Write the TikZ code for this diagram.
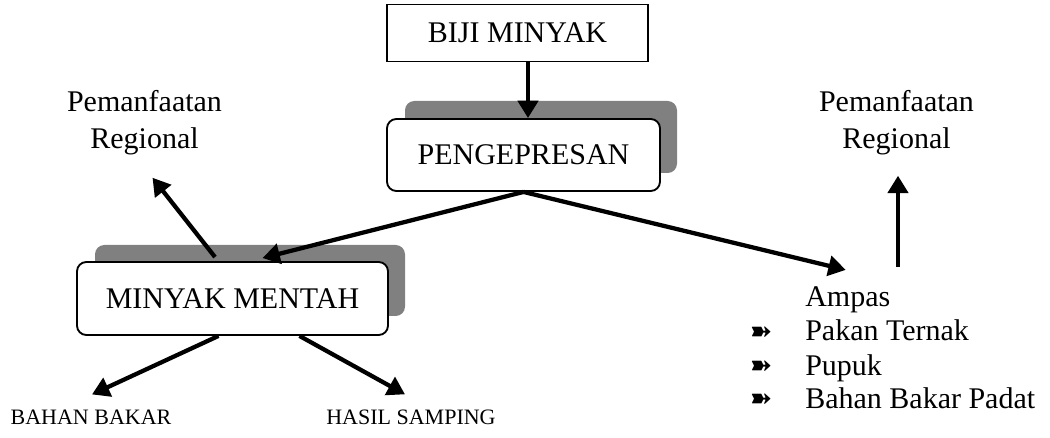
\documentclass[tikz,border=0pt]{standalone}
\usepackage{fontspec}
\setmainfont{Liberation Serif}
\newfontfamily\symfont{DejaVu Sans}
\usetikzlibrary{arrows.meta,calc}
\begin{document}
\begin{tikzpicture}[x=0.75pt,y=-0.75pt,
  txt/.style={font=\fontsize{22.5}{28}\selectfont},
  box/.style={txt,draw,line width=1.4pt,fill=white,inner sep=0pt},
  rbox/.style={box,rounded corners=7pt},
  shadebox/.style={fill=black!50,rounded corners=7pt,inner sep=0pt},
  arr/.style={line width=3.2pt,-{Triangle[length=13pt,width=15pt]}},
  lbl/.style={txt,align=center,inner sep=0pt},
  small/.style={font=\fontsize{16.5}{20}\selectfont,inner sep=0pt},
  item/.style={txt,anchor=base west,inner sep=0pt},
  bul/.style={font=\symfont\fontsize{20}{22}\selectfont,anchor=base,inner sep=0pt}]
\useasboundingbox (0,0) rectangle (1050,438);

% boxes
\node[box,minimum width=261*0.75pt,minimum height=57*0.75pt] (biji) at (517.5,33) {BIJI MINYAK};
\node[shadebox,minimum width=272*0.75pt,minimum height=72*0.75pt] (pengsh) at (541,137) {};
\node[rbox,minimum width=273*0.75pt,minimum height=72*0.75pt] (peng) at (523.5,155) {PENGEPRESAN};
\node[shadebox,minimum width=310*0.75pt,minimum height=71*0.75pt] (mmsh) at (250,280.5) {};
\node[rbox,minimum width=311*0.75pt,minimum height=73*0.75pt] (mm) at (232.5,298.5) {MINYAK MENTAH};

% labels
\node[lbl] (peml) at (144.5,123) {Pemanfaatan\\Regional};
\node[lbl] (pemr) at (896.5,123) {Pemanfaatan\\Regional};
\node[small] (bb) at (91,417) {BAHAN BAKAR};
\node[small] (hs) at (411,417) {HASIL SAMPING};

% ampas list
\node[item] (ampas) at (805,307) {Ampas};
\node[item] (pakan) at (805,341) {Pakan Ternak};
\node[item] (pupuk) at (805,375) {Pupuk};
\node[item] (bbp) at (805,408) {Bahan Bakar Padat};
\node[bul] (b1) at (761,340) {\bfseries ➽};
\node[bul] (b2) at (761,374) {\bfseries ➽};
\node[bul] (b3) at (761,407) {\bfseries ➽};

% connectors
\draw[arr] ($(biji.south)+(10.5,0)$) -- ($(peng.north)+(4.5,0)$);
\draw[arr] (peng.south) -- ($(mm.north)+(30,-3)$);
\draw[arr] (peng.south) -- ($(ampas.north)+(-2,-17)$);
\draw[arr] ($(mm.north)+(-17.5,-4)$) -- ($(peml.south)+(8,22)$);
\draw[arr] ($(pemr.south)+(1.5,111)$) -- ($(pemr.south)+(1.5,20)$);
\draw[arr] ($(mm.south)+(-14,0)$) -- ($(bb.north)+(1,-15)$);
\draw[arr] ($(mm.south)+(67,0)$) -- ($(hs.north)+(-6,-15)$);
\end{tikzpicture}
\end{document}
